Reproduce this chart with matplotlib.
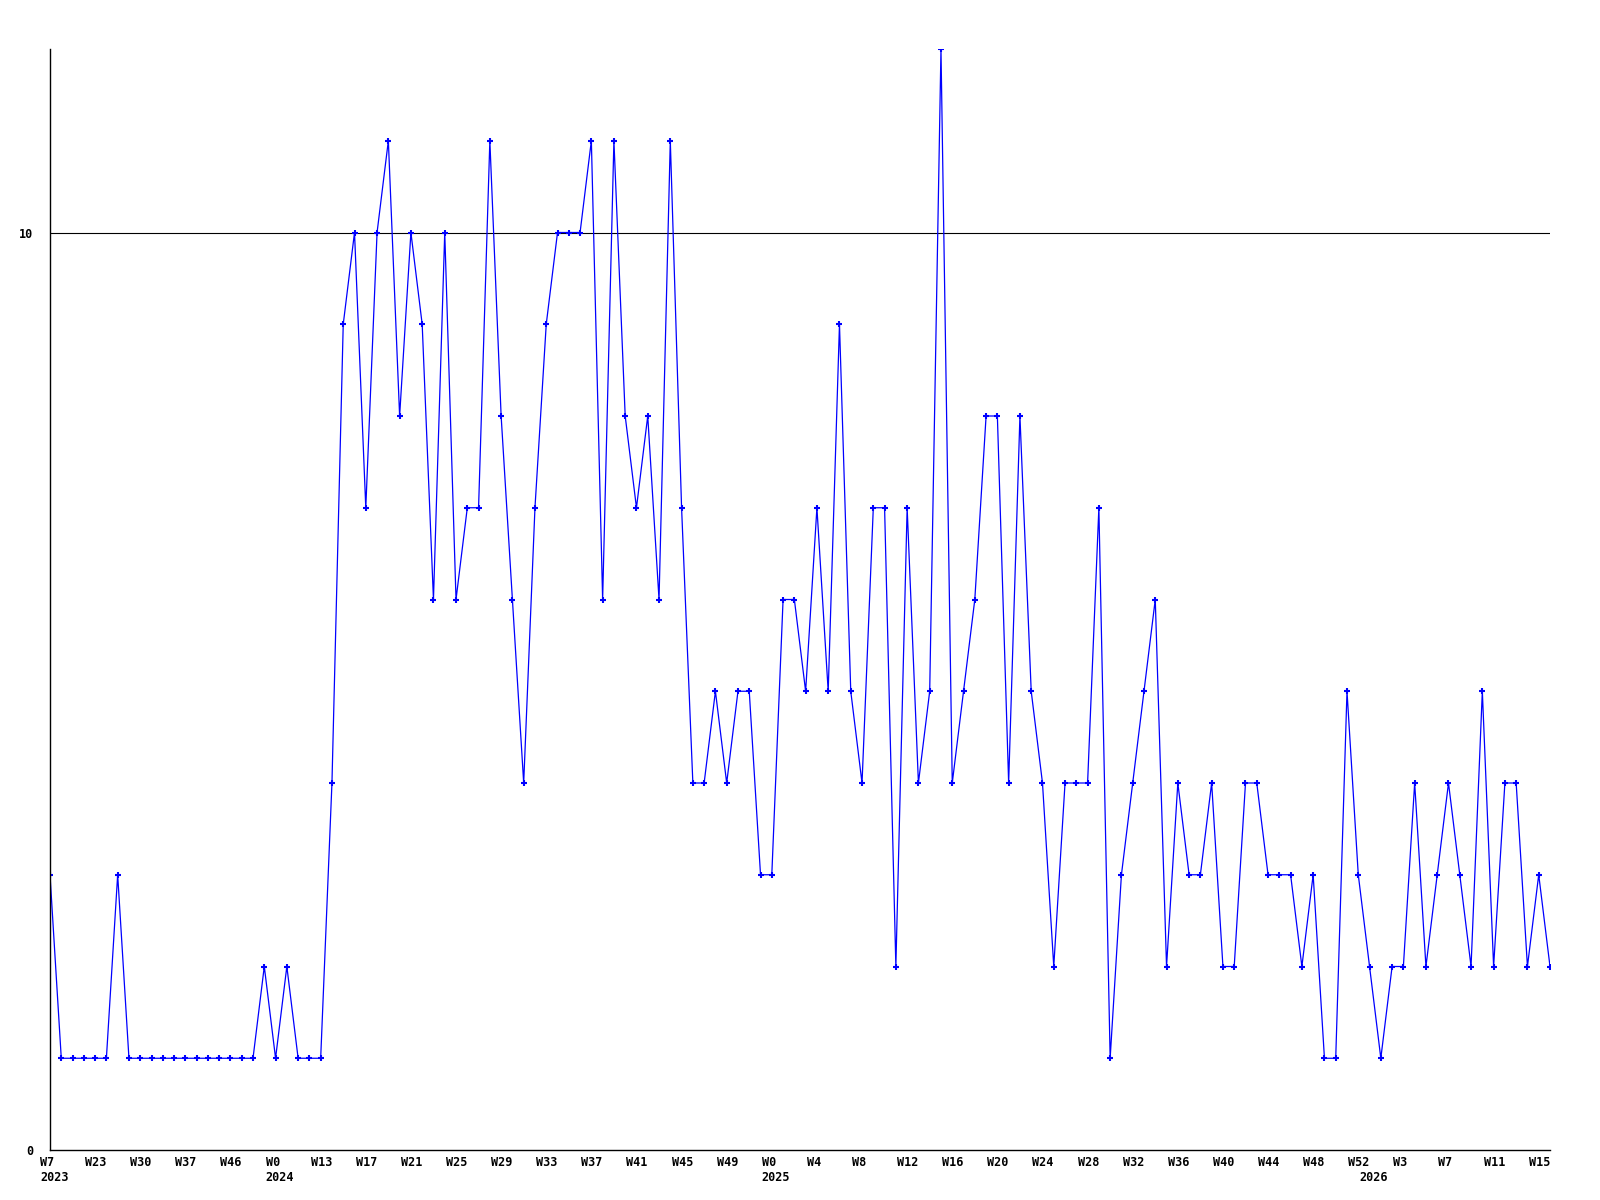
import matplotlib
matplotlib.use("Agg")
import matplotlib.pyplot as plt
import matplotlib.transforms as mtransforms

# ---- data ----
values = [
    3, 1, 1, 1, 1, 1, 3, 1, 1, 1, 1, 1, 1, 1, 1, 1, 1, 1, 1, 2, 1, 2, 1, 1, 1,
    4, 9, 10, 7, 10, 11, 8, 10, 9, 6, 10, 6, 7, 7, 11, 8, 6, 4, 7, 9, 10, 10, 10,
    11, 6, 11, 8, 7, 8, 6, 11, 7, 4,
    4, 5, 4, 5, 5, 3, 3, 6, 6, 5, 7, 5, 9, 5, 4, 7, 7, 2, 7, 4, 5, 12, 4, 5, 6, 8, 8,
    4, 8, 5, 4, 2, 4, 4, 4, 7, 1, 3, 4, 5, 6, 2, 4, 3, 3, 4, 2, 2, 4, 4, 3, 3, 3, 2,
    3, 1, 1, 5, 3, 2, 1, 2, 2, 4, 2, 3, 4, 3, 2, 5, 2, 4, 4, 2, 3, 2,
]
week_labels = [
    "W7", "W23", "W30", "W37", "W46", "W0", "W13", "W17", "W21", "W25", "W29",
    "W33", "W37", "W41", "W45", "W49", "W0", "W4", "W8", "W12", "W16", "W20",
    "W24", "W28", "W32", "W36", "W40", "W44", "W48", "W52", "W3", "W7", "W11", "W15",
]
week_label_step = 4
year_labels = ["2023", "2024", "2025", "2026"]
year_positions = [0, 20, 64, 117]
y_ticks = [0, 10]
threshold = 10

# ---- figure ----
fig = plt.figure(figsize=(16, 12), dpi=100)
ax = fig.add_axes([50 / 1600, 50 / 1200, 1500 / 1600, 1101 / 1200])

x = list(range(len(values)))
ax.axhline(threshold, color="black", lw=0.8, zorder=1)
ax.plot(x, values, color="#0000ff", lw=0.9, marker="+", ms=4.0, mew=1.5,
        zorder=2)

ax.set_xlim(0, len(values) - 1)
ax.set_ylim(0, 12)

for side in ("top", "right"):
    ax.spines[side].set_visible(False)
for side in ("left", "bottom"):
    ax.spines[side].set_color("black")
    ax.spines[side].set_linewidth(1.0)

font = dict(family="DejaVu Sans Mono", weight="bold", size=8.5)

ax.set_xticks(list(range(0, len(values), week_label_step))[:len(week_labels)])
ax.set_xticklabels(week_labels, ha="left", **font)
ax.tick_params(axis="x", which="major", length=0, pad=4.5)

ax.set_yticks(y_ticks)
ax.set_yticklabels([str(t) for t in y_ticks], **font)
ax.tick_params(axis="y", length=0, pad=12)

offset = mtransforms.ScaledTranslation(-10 / 100, 0, fig.dpi_scale_trans)
for lab in ax.get_xticklabels():
    lab.set_transform(lab.get_transform() + offset)

# year labels on a second row below the week labels
year_trans = mtransforms.blended_transform_factory(ax.transData, ax.transAxes) + \
    mtransforms.ScaledTranslation(-10 / 100, -21 / 100, fig.dpi_scale_trans)
for pos, lab in zip(year_positions, year_labels):
    ax.text(pos, 0, lab, transform=year_trans, ha="left", va="top",
            clip_on=False, **font)

fig.savefig("out.png", dpi=100, facecolor="white")
